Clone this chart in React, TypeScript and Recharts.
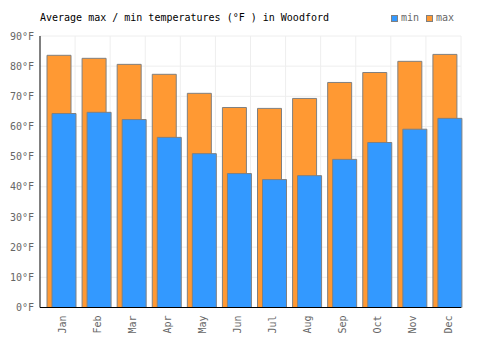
import { BarChart, Bar, XAxis, YAxis, CartesianGrid } from "recharts";

const MONTHS = ["Jan", "Feb", "Mar", "Apr", "May", "Jun", "Jul", "Aug", "Sep", "Oct", "Nov", "Dec"];
const MAX_TEMPS = [83.6, 82.6, 80.6, 77.3, 71.0, 66.3, 66.0, 69.3, 74.6, 77.9, 81.6, 83.9];
const MIN_TEMPS = [64.3, 64.7, 62.3, 56.4, 51.0, 44.4, 42.4, 43.7, 49.1, 54.7, 59.1, 62.7];
const Y_TICKS = [0, 10, 20, 30, 40, 50, 60, 70, 80, 90];

const MIN_COLOR = "#3399ff";
const MAX_COLOR = "#ff9933";
const BAR_STROKE = "#808080";
const FONT = "'DejaVu Sans Mono', monospace";

const data = MONTHS.map((month, i) => ({
  month,
  max: MAX_TEMPS[i],
  min: MIN_TEMPS[i],
}));

const LEGEND_ITEMS = [
  { name: "min", color: MIN_COLOR },
  { name: "max", color: MAX_COLOR },
];

function ChartLegend() {
  return (
    <div
      style={{
        position: "absolute",
        left: 391,
        top: 11,
        display: "flex",
        fontFamily: FONT,
        fontSize: 10,
        lineHeight: "14px",
        color: "#666",
      }}
    >
      {LEGEND_ITEMS.map((it) => (
        <div key={it.name} style={{ display: "flex", alignItems: "center", marginRight: 7 }}>
          <span
            style={{
              width: 5,
              height: 5,
              background: it.color,
              border: `1px solid ${BAR_STROKE}`,
              marginRight: 3,
            }}
          />
          <span>{it.name}</span>
        </div>
      ))}
    </div>
  );
}

export default function App() {
  return (
    <div style={{ position: "absolute", left: 0, top: 0, width: 500, height: 350 }}>
      <div
        style={{
          position: "absolute",
          left: 40,
          top: 11,
          fontFamily: FONT,
          fontSize: 10,
          lineHeight: "14px",
          color: "#000",
          whiteSpace: "pre",
        }}
      >
        Average max / min temperatures (°F ) in Woodford
      </div>
      <ChartLegend />
      <BarChart
        width={500}
        height={350}
        data={data}
        margin={{ top: 36, right: 39, left: 0, bottom: 0 }}
        barGap={0}
      >
        <CartesianGrid
          stroke="#eeeeee"
          verticalCoordinatesGenerator={({ offset }: any) =>
            MONTHS.map((_, i) => offset.left + ((i + 1) * offset.width) / MONTHS.length)
          }
        />
        <XAxis
          xAxisId="max"
          dataKey="month"
          height={42.5}
          padding={{ left: 1, right: -1 }}
          tickLine={false}
          axisLine={{ stroke: "#000" }}
          interval={0}
          tick={{
            angle: -90,
            textAnchor: "end",
            verticalAnchor: "middle",
            fill: "#666",
            fontFamily: FONT,
            fontSize: 10,
          }}
        />
        <XAxis
          xAxisId="min"
          dataKey="month"
          hide
          padding={{ left: 6, right: -6 }}
        />
        <YAxis
          width={40}
          domain={[0, 90]}
          ticks={Y_TICKS}
          tickLine={false}
          tickMargin={0}
          axisLine={{ stroke: "#000" }}
          tickFormatter={(v: number) => `${v}°F`}
          tick={{ fill: "#666", fontFamily: FONT, fontSize: 10 }}
        />
        <Bar
          xAxisId="max"
          dataKey="max"
          name="max"
          fill={MAX_COLOR}
          stroke={BAR_STROKE}
          strokeWidth={1}
          barSize={24}
          isAnimationActive={false}
        />
        <Bar
          xAxisId="min"
          dataKey="min"
          name="min"
          fill={MIN_COLOR}
          stroke={BAR_STROKE}
          strokeWidth={1}
          barSize={24}
          isAnimationActive={false}
        />
      </BarChart>
    </div>
  );
}
